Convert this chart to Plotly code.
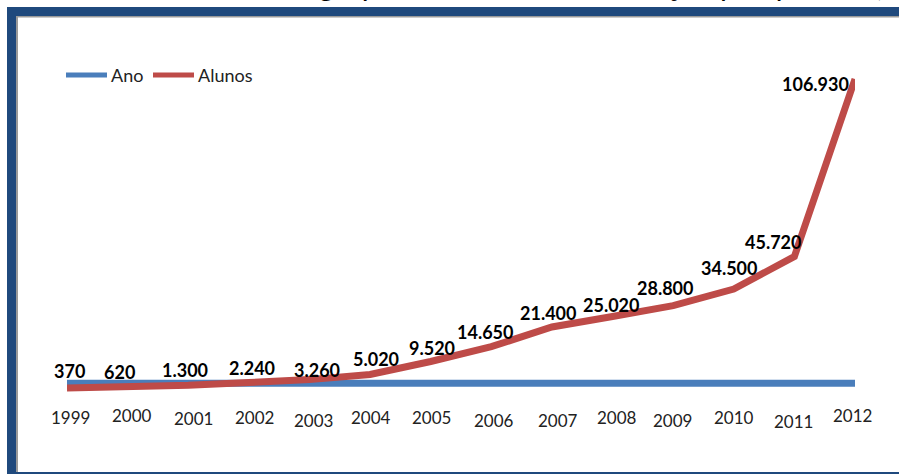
import plotly.graph_objects as go

# Enrolment per year
years = [1999, 2000, 2001, 2002, 2003, 2004, 2005, 2006,
         2007, 2008, 2009, 2010, 2011, 2012]
alunos = [370, 620, 1300, 2240, 3260, 5020, 9520, 14650,
          21400, 25020, 28800, 34500, 45720, 106930]
tick_labels = [str(y) for y in years]
series_names = ["Ano", "Alunos"]

FONT = "Lato, 'Open Sans', sans-serif"
BLUE = "#4A7EBB"
RED = "#BE4B48"
FRAME = "#1F497D"

W, H = 899, 474
L, R, T, B = 67, 44, 40, 44
plot_h = H - T - B


def py(ypix):
    """pixel row -> paper y"""
    return (H - B - ypix) / plot_h


def px(xpix):
    """pixel column -> paper x"""
    return (xpix - L) / (W - L - R)


fig = go.Figure()
fig.add_trace(go.Scatter(x=years, y=years, name=series_names[0], mode="lines",
                         line=dict(color=BLUE, width=7)))
fig.add_trace(go.Scatter(x=years, y=alunos, name=series_names[1], mode="lines",
                         line=dict(color=RED, width=7)))

# value labels (pt-BR thousands separator)
label_dx = [2, -8, -3, 3, 8, 6, 1, -6, -4, -2, -8, -5, -21, -40]
label_dy = [17, 15, 15, 15, 10, 16, 13, 15, 14, 12, 18, 21, 15, -5]
for yr, v, dx, dy in zip(years, alunos, label_dx, label_dy):
    fig.add_annotation(x=yr, y=v, xref="x", yref="y",
                       text=f"{v:,}".replace(",", "."), showarrow=False,
                       xshift=dx, yshift=dy, xanchor="center", yanchor="middle",
                       font=dict(family=FONT, size=18, color="#000000",
                                 weight="bold"))

# category labels under the series
tick_dx = [3, 4, 5, 6, 4, 1, 1, 3, 6, 4, -1, 0, -1, -3]
tick_dy = [28, 26, 29, 28, 31, 28, 28, 31, 31, 28, 31, 28, 32, 26]
for yr, lab, dx, dy in zip(years, tick_labels, tick_dx, tick_dy):
    fig.add_annotation(x=yr, y=0, xref="x", yref="y", text=lab,
                       showarrow=False, xshift=dx, yshift=-dy,
                       xanchor="center", yanchor="middle",
                       font=dict(family=FONT, size=17, color="#222222"))

# title line running off the top edge
fig.add_annotation(x=px(275), y=1, xref="paper", yref="paper",
                   xanchor="left", yanchor="bottom", yshift=T - 4,
                   text="do grupo de alunos na instituição pesquisada (1999 a 2012)",
                   showarrow=False,
                   font=dict(family=FONT, size=30, color="#000000"))

# frame: dark blue bars on left/top, thin bottom rule, grey inner edge
shapes = [
    dict(type="rect", xref="paper", yref="paper", x0=px(7), x1=px(16),
         y0=py(H), y1=py(7), fillcolor=FRAME, line_width=0, layer="above"),
    dict(type="rect", xref="paper", yref="paper", x0=px(7), x1=px(W + 5),
         y0=py(16), y1=py(7), fillcolor=FRAME, line_width=0, layer="above"),
    dict(type="rect", xref="paper", yref="paper", x0=px(7), x1=px(W + 5),
         y0=py(H + 2), y1=py(472), fillcolor=FRAME, line_width=0, layer="above"),
    dict(type="rect", xref="paper", yref="paper", x0=px(16), x1=px(18),
         y0=py(472), y1=py(16), fillcolor="#9A9A9A", line_width=0, layer="above"),
    dict(type="rect", xref="paper", yref="paper", x0=px(16), x1=px(W + 5),
         y0=py(17.5), y1=py(16), fillcolor="#9A9A9A", line_width=0, layer="above"),
]

# legend: line sample + series name, laid out left to right
legend_y = py(75)
legend_starts = [66, 153]
for name, color, x0 in zip(series_names, [BLUE, RED], legend_starts):
    shapes.append(dict(type="line", xref="paper", yref="paper",
                       x0=px(x0), x1=px(x0 + 41), y0=legend_y, y1=legend_y,
                       line=dict(color=color, width=5)))
    fig.add_annotation(x=px(x0 + 43), y=legend_y, xref="paper", yref="paper",
                       text=name, showarrow=False, xanchor="left",
                       yanchor="middle",
                       font=dict(family=FONT, size=18, color="#222222"))

units_per_px = 344.9
zero_px = 389.07
y_top = (zero_px - T) * units_per_px
y_bot = -((H - B) - zero_px) * units_per_px

fig.update_layout(
    width=W, height=H,
    margin=dict(l=L, r=R, t=T, b=B),
    paper_bgcolor="white", plot_bgcolor="white",
    shapes=shapes,
    showlegend=False,
    xaxis=dict(range=[1999, 2012], showgrid=False, zeroline=False,
               showticklabels=False, showline=False, ticks=""),
    yaxis=dict(range=[y_bot, y_top], showgrid=False, zeroline=False,
               showticklabels=False, showline=False, ticks=""),
)

fig.write_html("out.html")
